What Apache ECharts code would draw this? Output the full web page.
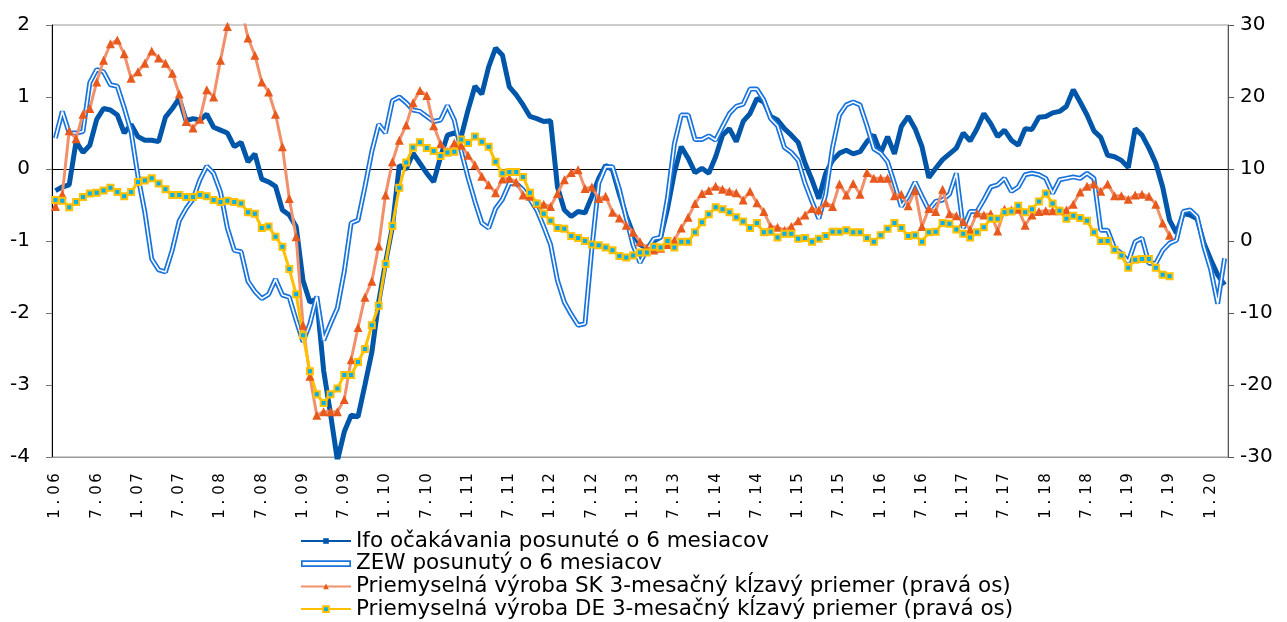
<!DOCTYPE html>
<html lang="sk">
<head>
    <meta charset="UTF-8">
    <title>Ifo, ZEW a priemyselná výroba</title>
</head>

<script src="https://cdn.jsdelivr.net/npm/echarts@6/dist/echarts.min.js"></script>

<body style="margin:0">
<div id="main" style="width: 1287px;height:622px;"></div>

<script type="text/javascript">
    // mesiace 1.06 ... 3.20
    var startYear = 6
    var monthCount = 171
    var months = []
    for (var i = 0; i < monthCount; i++) {
        var y = startYear + Math.floor(i / 12)
        months.push((i % 12 + 1) + '.' + (y < 10 ? '0' + y : y))
    }

    var names = [
        'Ifo očakávania posunuté o 6 mesiacov',
        'ZEW posunutý o 6 mesiacov',
        'Priemyselná výroba SK 3-mesačný kĺzavý priemer (pravá os)',
        'Priemyselná výroba DE 3-mesačný kĺzavý priemer (pravá os)'
    ]

    // lava os
    var ifo = [
        -0.30, -0.25, -0.22, 0.38, 0.23, 0.33, 0.69, 0.84, 0.82, 0.75, 0.50, 0.62,
        0.45, 0.40, 0.40, 0.38, 0.72, 0.84, 0.98, 0.67, 0.70, 0.68, 0.76, 0.58,
        0.54, 0.50, 0.31, 0.37, 0.10, 0.21, -0.14, -0.18, -0.24, -0.57, -0.64, -0.80,
        -1.55, -1.85, -1.80, -2.80, -3.40, -4.05, -3.65, -3.42, -3.44, -3.00, -2.55, -1.85,
        -1.30, -0.80, 0.05, 0.00, 0.22, 0.08, -0.06, -0.18, 0.17, 0.47, 0.50, 0.45,
        0.82, 1.15, 1.04, 1.42, 1.68, 1.58, 1.14, 1.03, 0.89, 0.73, 0.70, 0.66,
        0.67, -0.25, -0.57, -0.66, -0.59, -0.61, -0.38, -0.13, 0.05, -0.01, -0.35, -0.65,
        -0.90, -1.05, -1.10, -1.00, -0.95, -0.55, -0.05, 0.31, 0.15, -0.05, 0.01, -0.06,
        0.17, 0.47, 0.56, 0.38, 0.66, 0.77, 0.98, 0.93, 0.73, 0.68, 0.56, 0.47,
        0.37, 0.08, -0.15, -0.41, -0.06, 0.12, 0.22, 0.26, 0.21, 0.24, 0.38, 0.47,
        0.22, 0.45, 0.21, 0.59, 0.73, 0.56, 0.31, -0.12, 0.01, 0.13, 0.21, 0.29,
        0.50, 0.39, 0.56, 0.77, 0.63, 0.45, 0.54, 0.40, 0.33, 0.56, 0.55, 0.72,
        0.73, 0.78, 0.80, 0.87, 1.10, 0.93, 0.75, 0.53, 0.44, 0.19, 0.17, 0.12,
        0.02, 0.56, 0.47, 0.29, 0.08, -0.25, -0.71, -0.89, -0.62, -0.64, -0.69, -1.03,
        -1.26, -1.47, -1.61
    ]
    var zew = [
        0.43, 0.80, 0.50, 0.50, 0.52, 1.20, 1.38, 1.35, 1.17, 1.15, 0.85, 0.52,
        -0.10, -0.60, -1.25, -1.40, -1.43, -1.12, -0.72, -0.55, -0.42, -0.15, 0.04, -0.06,
        -0.32, -0.82, -1.13, -1.15, -1.56, -1.70, -1.80, -1.74, -1.53, -1.75, -1.78, -2.10,
        -2.40, -2.15, -1.77, -2.38, -2.15, -1.93, -1.42, -0.75, -0.71, -0.25, 0.24, 0.62,
        0.50, 0.95, 1.00, 0.92, 0.82, 0.80, 0.73, 0.66, 0.68, 0.88, 0.68, 0.25,
        -0.12, -0.45, -0.75, -0.82, -0.55, -0.42, -0.20, -0.20, -0.29, -0.42, -0.57, -0.80,
        -1.05, -1.55, -1.85, -2.02, -2.17, -2.15, -1.10, -0.20, 0.03, 0.03, -0.28, -0.68,
        -1.06, -1.30, -1.12, -0.97, -0.95, -0.40, 0.35, 0.75, 0.75, 0.41, 0.41, 0.46,
        0.40, 0.59, 0.77, 0.87, 0.90, 1.11, 1.11, 0.96, 0.70, 0.60, 0.30, 0.23,
        0.12, -0.20, -0.45, -0.69, -0.35, 0.30, 0.75, 0.89, 0.93, 0.89, 0.60, 0.28,
        0.22, 0.10, -0.20, -0.52, -0.38, -0.18, -0.38, -0.57, -0.45, -0.43, -0.35, -0.06,
        -0.82, -0.59, -0.59, -0.43, -0.25, -0.22, -0.13, -0.31, -0.25, -0.08, -0.06, -0.08,
        -0.13, -0.34, -0.15, -0.13, -0.11, -0.13, -0.06, -0.13, -0.85, -0.85, -1.10, -1.17,
        -1.29, -1.01, -0.96, -1.31, -1.31, -1.13, -1.03, -0.99, -0.59, -0.57, -0.66, -1.08,
        -1.40, -1.87, -1.24
    ]

    // prava os
    var skProd = [
        4.8, 6.5, 15.3, 14.2, 17.6, 18.4, 22.1, 25.1, 27.4, 27.9, 26.0, 22.6,
        23.5, 24.7, 26.4, 25.4, 24.7, 23.3, 20.4, 16.6, 15.7, 16.9, 21.0, 20.0,
        25.1, 29.8, 33.5, 32.5, 28.2, 25.8, 22.1, 20.7, 17.6, 13.1, 5.9, 0.6,
        -11.7, -18.8, -24.2, -23.7, -23.7, -23.7, -22.0, -16.5, -12.0, -7.8, -5.6, -0.7,
        6.4, 11.0, 14.0, 16.1, 19.2, 20.9, 20.2, 16.0, 13.5, 12.4, 13.6, 13.3,
        11.9, 10.6, 9.0, 7.8, 6.7, 8.6, 8.7, 8.2, 6.4, 6.2, 5.2, 5.1,
        4.8, 6.6, 8.5, 9.5, 9.9, 7.3, 7.5, 5.9, 6.2, 4.0, 3.2, 2.2,
        1.2, -0.1, -1.0, -1.25, -1.0, -0.5, 0.1, 1.8, 3.3, 5.2, 6.6, 7.0,
        7.6, 7.2, 6.9, 6.7, 5.7, 6.9, 5.3, 4.1, 2.0, 1.9, 1.5, 2.0,
        2.8, 3.6, 4.5, 4.3, 5.3, 4.8, 7.9, 6.4, 8.0, 6.5, 9.5, 8.7,
        8.7, 8.7, 6.3, 6.5, 4.9, 7.0, 2.0, 4.5, 4.1, 7.2, 3.8, 3.5,
        2.7, 1.6, 3.9, 3.6, 3.8, 1.4, 4.4, 4.3, 4.4, 2.2, 3.6, 4.1,
        4.2, 4.2, 4.2, 4.3, 5.1, 6.8, 7.6, 7.9, 6.9, 7.9, 6.3, 6.3,
        5.8, 6.4, 6.5, 6.2, 5.1, 2.5, 0.8
    ]
    var deProd = [
        5.7, 5.6, 4.7, 5.4, 6.1, 6.6, 6.7, 7.0, 7.4, 6.8, 6.2, 6.8,
        8.2, 8.4, 8.7, 8.0, 7.2, 6.4, 6.4, 6.1, 6.1, 6.4, 6.2, 5.7,
        5.4, 5.6, 5.4, 5.2, 4.0, 3.8, 1.8, 2.0, 0.6, -0.8, -3.9, -7.4,
        -13.1, -18.1, -21.3, -22.5, -21.3, -20.5, -18.6, -18.6, -16.8, -15.0, -11.7, -9.0,
        -3.2, 2.1, 7.4, 10.9, 13.0, 13.7, 12.9, 12.5, 11.8, 12.3, 12.4, 14.1,
        13.6, 14.5, 13.8, 13.1, 11.0, 9.4, 9.6, 9.6, 8.9, 6.7, 5.2, 3.8,
        2.8, 1.8, 1.7, 0.7, 0.4, 0.0, -0.5, -0.6, -0.9, -1.3, -2.1, -2.3,
        -2.0, -1.6, -1.6, -0.8, -0.9, 0.0, -0.9, -0.1, -0.1, 1.2, 2.6, 3.7,
        4.7, 4.4, 4.0, 3.3, 2.7, 1.8, 2.5, 1.2, 1.3, 0.5, 1.0, 1.0,
        0.3, 0.4, -0.1, 0.3, 0.7, 1.3, 1.3, 1.5, 1.2, 1.2, 0.4, -0.1,
        0.8, 1.7, 2.5, 1.8, 0.7, 0.8, -0.1, 1.2, 1.3, 2.5, 2.4, 1.6,
        1.0, 0.5, 1.2, 1.9, 3.1, 3.1, 4.0, 4.1, 4.9, 4.0, 4.4, 5.5,
        6.6, 5.2, 4.2, 3.1, 3.5, 3.2, 2.8, 1.2, 0.0, 0.0, -1.2, -2.0,
        -3.7, -2.6, -2.5, -2.5, -3.7, -4.7, -4.9
    ]

    var font = 'DejaVu Sans'
    var myChart = echarts.init(document.getElementById('main'))

    myChart.setOption({
        animation: false,
        grid: {
            left: 52, right: 59, top: 25, bottom: 165,
            show: true, borderColor: '#999', borderWidth: 1
        },
        legend: {
            orient: 'vertical',
            left: 300,
            top: 530,
            padding: 0,
            itemWidth: 50,
            itemHeight: 7,
            itemGap: 0.7,
            selectedMode: false,
            textStyle: {fontSize: 21.5, lineHeight: 22, color: '#000', fontFamily: font},
            data: [
                {name: names[0]},
                {name: names[1], icon: 'path://M0,0H60V8H0ZM2,6H58V2H2Z', itemStyle: {borderWidth: 0}},
                {name: names[2]},
                {name: names[3]}
            ]
        },
        xAxis: [
            {
                type: 'category',
                data: months,
                position: 'bottom',
                axisLine: {onZero: false, lineStyle: {color: '#999'}},
                axisTick: {show: false},
                axisLabel: {
                    interval: 5, rotate: 90, margin: 15,
                    // rozostupene znaky ako v originale
                    formatter: function (v) {
                        return v.split('').map(function (c) { return '{c|' + c + '}' }).join('')
                    },
                    rich: {c: {width: 12, align: 'center', fontSize: 15, color: '#000', fontFamily: font}}
                }
            },
            {
                // os x cez nulu lavej osi
                type: 'category',
                data: months,
                position: 'bottom',
                axisLine: {onZero: true, onZeroAxisIndex: 0, lineStyle: {color: '#000', width: 1}},
                axisTick: {interval: 5, length: 5, lineStyle: {color: '#000'}},
                axisLabel: {show: false}
            }
        ],
        yAxis: [
            {
                type: 'value', min: -4, max: 2, interval: 1, position: 'left',
                axisLine: {show: true, lineStyle: {color: '#000'}},
                axisTick: {show: true, length: 6, lineStyle: {color: '#777'}},
                splitLine: {show: false},
                axisLabel: {fontSize: 20, color: '#000', margin: 22, fontFamily: font}
            },
            {
                type: 'value', min: -30, max: 30, interval: 10, position: 'right',
                axisLine: {show: true, lineStyle: {color: '#555'}},
                axisTick: {show: true, length: 6, lineStyle: {color: '#555'}},
                splitLine: {show: false},
                axisLabel: {fontSize: 20, color: '#000', margin: 12, fontFamily: font}
            }
        ],
        series: [
            {
                name: names[0], type: 'line', data: ifo, yAxisIndex: 0,
                symbol: 'rect', showSymbol: false,
                lineStyle: {color: '#0056a8', width: 5},
                itemStyle: {color: '#0056a8'}
            },
            {
                name: names[1], type: 'line', data: zew, yAxisIndex: 0,
                symbol: 'none',
                lineStyle: {color: '#1874dc', width: 5},
                itemStyle: {color: '#1874dc', borderWidth: 0}
            },
            {
                // biela stredna ciara pre dvojitu ciaru ZEW
                name: 'zew-inner', type: 'line', data: zew, yAxisIndex: 0,
                symbol: 'none', silent: true,
                lineStyle: {color: '#fff', width: 1.6}
            },
            {
                name: names[2], type: 'line', data: skProd, yAxisIndex: 1,
                symbol: 'triangle', symbolSize: 9, showAllSymbol: true,
                lineStyle: {color: '#f0916c', width: 3},
                itemStyle: {color: '#e8591d'}
            },
            {
                name: names[3], type: 'line', data: deProd, yAxisIndex: 1,
                symbol: 'rect', symbolSize: 6, showAllSymbol: true,
                lineStyle: {color: '#ffc000', width: 3},
                itemStyle: {color: '#00b0f0', borderColor: '#ffc000', borderWidth: 2}
            }
        ]
    })
</script>

</body>
</html>
